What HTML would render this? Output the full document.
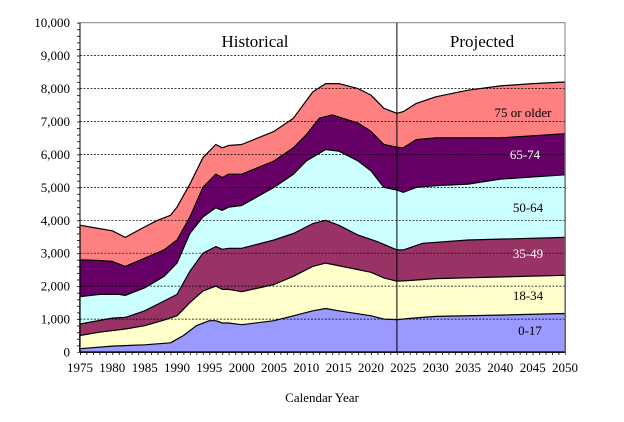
<!DOCTYPE html>
<html><head><meta charset="utf-8"><style>
html,body{margin:0;padding:0;background:#fff}
svg{display:block;font-family:"Liberation Serif",serif}
</style></head><body>
<svg width="624" height="422" viewBox="0 0 624 422" xmlns="http://www.w3.org/2000/svg">
<defs>
<pattern id="xt" x="80" y="0" width="6.4667" height="10" patternUnits="userSpaceOnUse"><line x1="0.4" x2="0.4" y1="0" y2="10" stroke="#000" stroke-width="0.8"/></pattern>
<pattern id="yt" x="0" y="22.7" width="10" height="6.586" patternUnits="userSpaceOnUse"><line x1="0" x2="10" y1="0.4" y2="0.4" stroke="#000" stroke-width="0.8"/></pattern>
</defs>
<g stroke="#000" stroke-width="1.2" stroke-linejoin="round">
<polygon fill="#ff8080" points="80,352 80,225.2 92.9,227.5 112.3,230.8 125.3,237.4 144.7,226.9 157.6,220.3 170.5,215.3 177.0,207.1 189.9,184.1 202.9,157.7 215.8,144.5 222.3,147.8 228.7,145.5 241.7,144.5 274.0,131.4 293.4,118.2 312.8,91.9 325.7,83.6 338.7,83.6 358.1,88.6 371.0,95.1 383.9,108.3 396.9,113.3 403.3,111.6 416.3,103.4 435.7,96.8 468.0,90.2 500.3,85.9 532.7,83.6 565,82.0 565,352"/>
<polygon fill="#660066" points="80,352 80,259.8 99.4,260.5 112.3,261.4 125.3,266.4 144.7,258.2 164.1,249.9 177.0,240.0 189.9,217.0 202.9,187.4 215.8,174.2 222.3,177.5 228.7,174.2 241.7,174.2 274.0,161.0 293.4,147.8 306.3,134.7 319.3,118.2 332.2,114.9 358.1,123.1 371.0,131.4 383.9,144.5 396.9,147.2 403.3,147.8 416.3,139.6 435.7,137.9 500.3,137.9 565,133.7 565,352"/>
<polygon fill="#ccffff" points="80,352 80,296.7 99.4,294.4 118.8,294.4 125.3,295.4 144.7,287.8 164.1,276.3 177.0,263.1 189.9,233.5 202.9,217.0 215.8,207.8 222.3,210.4 228.7,207.1 241.7,205.5 274.0,187.4 293.4,174.2 306.3,161.0 325.7,149.5 338.7,151.1 358.1,161.0 371.0,170.9 383.9,187.4 396.9,190.0 403.3,192.3 416.3,187.4 435.7,185.7 468.0,184.1 500.3,179.1 565,174.8 565,352"/>
<polygon fill="#993366" points="80,352 80,324.0 112.3,318.1 125.3,317.4 144.7,310.8 164.1,301.0 177.0,294.4 189.9,271.3 202.9,253.2 215.8,246.6 222.3,249.3 228.7,248.3 241.7,248.3 274.0,240.0 293.4,233.5 312.8,223.6 325.7,220.3 338.7,225.2 358.1,235.1 377.5,241.7 396.9,249.9 403.3,249.9 422.7,243.3 468.0,240.0 565,237.4 565,352"/>
<polygon fill="#ffffcc" points="80,352 80,335.5 99.4,332.2 125.3,329.0 144.7,325.7 164.1,320.1 177.0,315.8 189.9,302.6 202.9,291.1 215.8,286.1 222.3,289.4 228.7,289.4 241.7,291.7 274.0,284.5 293.4,276.3 312.8,266.4 325.7,263.1 345.1,267.0 371.0,272.3 383.9,277.9 396.9,281.2 409.8,280.5 435.7,278.6 565,275.3 565,352"/>
<polygon fill="#9999ff" points="80,352 80,348.7 112.3,346.1 144.7,344.8 170.5,342.8 183.5,335.5 196.4,325.7 209.3,320.7 215.8,320.7 222.3,323.0 228.7,323.0 241.7,324.7 274.0,320.7 293.4,315.8 312.8,310.8 325.7,308.5 338.7,310.8 371.0,315.8 383.9,319.1 396.9,319.7 409.8,318.4 435.7,316.4 500.3,315.1 565,313.5 565,352"/>
</g>
<g stroke="#000" stroke-width="0.7" stroke-dasharray="2,1.5">
<line x1="80" x2="565" y1="319.1" y2="319.1"/><line x1="80" x2="565" y1="286.1" y2="286.1"/>
<line x1="80" x2="565" y1="253.2" y2="253.2"/><line x1="80" x2="565" y1="220.3" y2="220.3"/>
<line x1="80" x2="565" y1="187.4" y2="187.4"/><line x1="80" x2="565" y1="154.4" y2="154.4"/>
<line x1="80" x2="565" y1="121.5" y2="121.5"/><line x1="80" x2="565" y1="88.6" y2="88.6"/>
<line x1="80" x2="565" y1="55.6" y2="55.6"/>
</g>
<rect x="80" y="22.7" width="485" height="329.3" fill="none" stroke="#808080" stroke-width="1"/>
<line x1="80" x2="80" y1="22.7" y2="352" stroke="#000"/>
<line x1="80" x2="565" y1="352" y2="352" stroke="#000"/>
<line x1="396.9" x2="396.9" y1="22.7" y2="352" stroke="#000"/>
<rect x="77" y="22.3" width="3" height="330.3" fill="url(#yt)"/>
<rect x="79.6" y="352" width="486" height="3" fill="url(#xt)"/>
<g font-size="13" text-anchor="end">
<text x="70" y="356.5">0</text><text x="70" y="323.6">1,000</text><text x="70" y="290.6">2,000</text>
<text x="70" y="257.7">3,000</text><text x="70" y="224.8">4,000</text><text x="70" y="191.9">5,000</text>
<text x="70" y="158.9">6,000</text><text x="70" y="126">7,000</text><text x="70" y="93.1">8,000</text>
<text x="70" y="60.1">9,000</text><text x="70" y="27.2">10,000</text>
</g>
<g font-size="13" text-anchor="middle">
<text x="80" y="372">1975</text><text x="112.3" y="372">1980</text><text x="144.7" y="372">1985</text>
<text x="177" y="372">1990</text><text x="209.3" y="372">1995</text><text x="241.7" y="372">2000</text>
<text x="274" y="372">2005</text><text x="306.3" y="372">2010</text><text x="338.7" y="372">2015</text>
<text x="371" y="372">2020</text><text x="403.3" y="372">2025</text><text x="435.7" y="372">2030</text>
<text x="468" y="372">2035</text><text x="500.3" y="372">2040</text><text x="532.7" y="372">2045</text>
<text x="565" y="372">2050</text>
</g>
<text x="255" y="47" font-size="17" text-anchor="middle">Historical</text>
<text x="482" y="47" font-size="17" text-anchor="middle">Projected</text>
<text x="523" y="117" font-size="13" text-anchor="middle" fill="#000">75 or older</text>
<text x="525" y="159" font-size="13" text-anchor="middle" fill="#fff">65-74</text>
<text x="528" y="212" font-size="13" text-anchor="middle" fill="#000">50-64</text>
<text x="528" y="258" font-size="13" text-anchor="middle" fill="#fff">35-49</text>
<text x="528" y="300" font-size="13" text-anchor="middle" fill="#000">18-34</text>
<text x="530" y="335" font-size="13" text-anchor="middle" fill="#000">0-17</text>
<text x="322" y="402" font-size="13" text-anchor="middle">Calendar Year</text>
</svg>
</body></html>
